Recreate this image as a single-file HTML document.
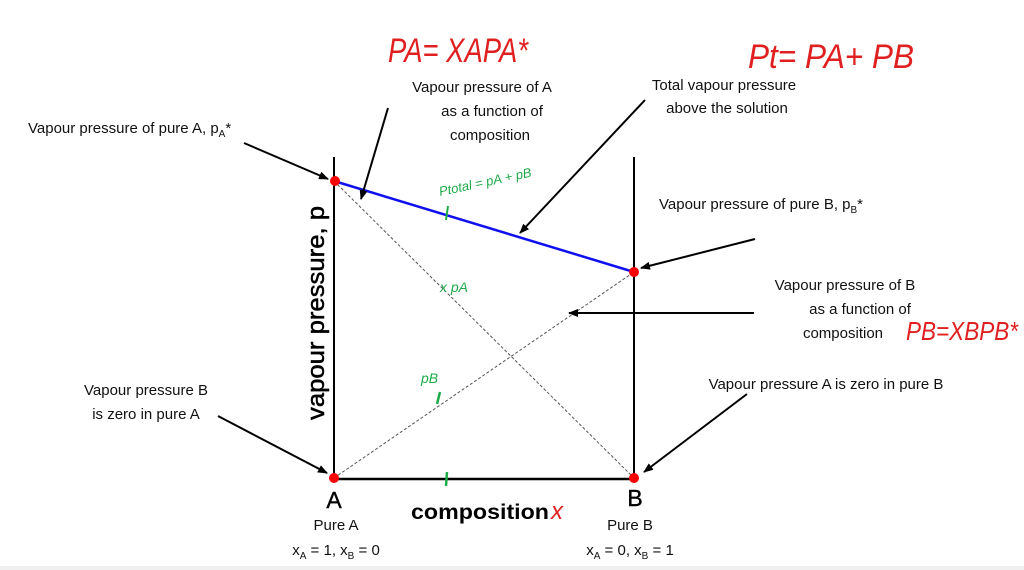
<!DOCTYPE html>
<html><head><meta charset="utf-8"><style>
html,body{margin:0;padding:0;background:#fff;width:1024px;height:570px;overflow:hidden}
svg{display:block}
.t{font-family:"Liberation Sans",sans-serif;font-size:15px;fill:#111}
.h{font-family:"Liberation Sans",sans-serif;fill:#e02020;font-style:italic}
.g{font-family:"Liberation Sans",sans-serif;fill:#1faa4a;font-style:italic}
</style></head><body>
<svg width="1024" height="570" viewBox="0 0 1024 570">
<defs><marker id="ar" markerWidth="10" markerHeight="8" refX="9" refY="4" orient="auto" markerUnits="userSpaceOnUse"><path d="M0,0 L10,4 L0,8 z" fill="#000"/></marker></defs>
<rect x="0" y="566" width="1024" height="4" fill="#f0f0f0"/>
<line x1="334" y1="157" x2="334" y2="479" stroke="#000" stroke-width="2"/>
<line x1="634" y1="157" x2="634" y2="479" stroke="#000" stroke-width="2"/>
<line x1="334" y1="479" x2="634" y2="479" stroke="#000" stroke-width="2.5"/>
<line x1="334" y1="181" x2="634" y2="478" stroke="#555" stroke-width="1" stroke-dasharray="3,2"/>
<line x1="334" y1="478" x2="634" y2="272" stroke="#555" stroke-width="1" stroke-dasharray="3,2"/>
<line x1="334" y1="181" x2="634" y2="272" stroke="#1010ee" stroke-width="2.5"/>
<circle cx="335" cy="181" r="5" fill="#f00"/>
<circle cx="634" cy="272" r="5" fill="#f00"/>
<circle cx="334" cy="478" r="5" fill="#f00"/>
<circle cx="634" cy="478" r="5" fill="#f00"/>
<g stroke="#000" stroke-width="2" marker-end="url(#ar)">
<line x1="244" y1="143" x2="328" y2="179"/>
<line x1="388" y1="108" x2="361" y2="199"/>
<line x1="645" y1="100" x2="520" y2="233"/>
<line x1="755" y1="239" x2="641" y2="268"/>
<line x1="754" y1="313" x2="569" y2="313"/>
<line x1="747" y1="394" x2="644" y2="472"/>
<line x1="218" y1="416" x2="327" y2="473"/>
</g>
<text class="t" x="28" y="133">Vapour pressure of pure A, p<tspan font-size="10" dy="4">A</tspan><tspan dy="-4">*</tspan></text>
<text class="t" x="482" y="92" text-anchor="middle">Vapour pressure of A</text>
<text class="t" x="492" y="116" text-anchor="middle">as a function of</text>
<text class="t" x="490" y="140" text-anchor="middle">composition</text>
<text class="t" x="724" y="90" text-anchor="middle">Total vapour pressure</text>
<text class="t" x="727" y="113" text-anchor="middle">above the solution</text>
<text class="t" x="659" y="209">Vapour pressure of pure B, p<tspan font-size="10" dy="4">B</tspan><tspan dy="-4">*</tspan></text>
<text class="t" x="845" y="290" text-anchor="middle">Vapour pressure of B</text>
<text class="t" x="860" y="314" text-anchor="middle">as a function of</text>
<text class="t" x="843" y="338" text-anchor="middle">composition</text>
<text class="t" x="826" y="389" text-anchor="middle">Vapour pressure A is zero in pure B</text>
<text class="t" x="146" y="395" text-anchor="middle">Vapour pressure B</text>
<text class="t" x="146" y="419" text-anchor="middle">is zero in pure A</text>
<text font-family="Liberation Sans,sans-serif" font-size="23" x="334" y="508" text-anchor="middle" fill="#000" stroke="#000" stroke-width="0.4">A</text>
<text font-family="Liberation Sans,sans-serif" font-size="23" x="635" y="506" text-anchor="middle" fill="#000" stroke="#000" stroke-width="0.4">B</text>
<text font-family="Liberation Sans,sans-serif" font-size="21" font-weight="bold" x="411" y="519" fill="#000" textLength="138" lengthAdjust="spacingAndGlyphs">composition</text>
<text class="h" x="551" y="519" font-size="24">x</text>
<text class="t" x="336" y="530" text-anchor="middle">Pure A</text>
<text class="t" x="336" y="555" text-anchor="middle">x<tspan font-size="10" dy="4">A</tspan><tspan dy="-4"> = 1, x</tspan><tspan font-size="10" dy="4">B</tspan><tspan dy="-4"> = 0</tspan></text>
<text class="t" x="630" y="530" text-anchor="middle">Pure B</text>
<text class="t" x="630" y="555" text-anchor="middle">x<tspan font-size="10" dy="4">A</tspan><tspan dy="-4"> = 0, x</tspan><tspan font-size="10" dy="4">B</tspan><tspan dy="-4"> = 1</tspan></text>
<text font-family="Liberation Sans,sans-serif" font-size="24" fill="#000" stroke="#000" stroke-width="0.5" transform="translate(324,313) rotate(-90)" text-anchor="middle" textLength="214" lengthAdjust="spacingAndGlyphs">vapour pressure, p</text>
<text class="h" x="388" y="62" font-size="34" textLength="140" lengthAdjust="spacingAndGlyphs">PA= XAPA*</text>
<text class="h" x="748" y="68" font-size="34" textLength="166" lengthAdjust="spacingAndGlyphs">Pt= PA+ PB</text>
<text class="h" x="906" y="340" font-size="26" textLength="112" lengthAdjust="spacingAndGlyphs">PB=XBPB*</text>
<text class="g" x="440" y="196" font-size="13" transform="rotate(-12 440 196)">Ptotal = pA + pB</text>
<text class="g" x="440" y="292" font-size="14">x pA</text>
<text class="g" x="421" y="383" font-size="14">pB</text>
<line x1="448" y1="206" x2="446" y2="220" stroke="#1faa4a" stroke-width="2"/>
<line x1="440" y1="392" x2="437" y2="404" stroke="#1faa4a" stroke-width="2.5"/>
<line x1="447" y1="472" x2="446" y2="486" stroke="#1faa4a" stroke-width="2.5"/>
</svg>
</body></html>
